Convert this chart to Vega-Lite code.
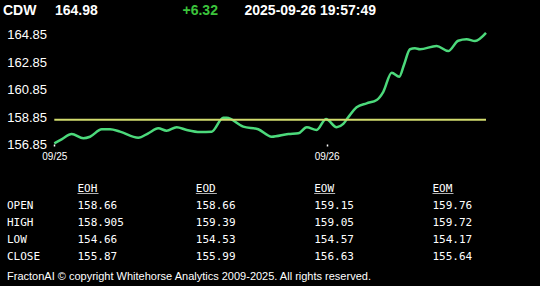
{
  "$schema": "https://vega.github.io/schema/vega-lite/v6.json",
  "width": 540,
  "height": 286,
  "autosize": {"type": "none"},
  "padding": 0,
  "background": "#000000",
  "config": {"view": {"stroke": null}},
  "datasets": {
    "price": [
      {"h": 0, "v": 156.95},
      {"h": 0.68, "v": 157.26},
      {"h": 1.53, "v": 157.63},
      {"h": 2.56, "v": 157.32},
      {"h": 3.15, "v": 157.43},
      {"h": 4.18, "v": 157.97},
      {"h": 4.91, "v": 157.97},
      {"h": 5.79, "v": 157.8},
      {"h": 7.4, "v": 157.36},
      {"h": 8.28, "v": 157.68},
      {"h": 9.16, "v": 158.04},
      {"h": 9.9, "v": 157.87},
      {"h": 10.78, "v": 158.12},
      {"h": 11.67, "v": 157.92},
      {"h": 12.84, "v": 157.77},
      {"h": 13.87, "v": 157.8},
      {"h": 14.89, "v": 158.81},
      {"h": 15.19, "v": 158.81},
      {"h": 16.65, "v": 158.16},
      {"h": 17.97, "v": 157.97},
      {"h": 19.15, "v": 157.43},
      {"h": 20.62, "v": 157.63},
      {"h": 21.5, "v": 157.68},
      {"h": 22.24, "v": 158.12},
      {"h": 23.12, "v": 157.92},
      {"h": 23.94, "v": 158.72},
      {"h": 24.88, "v": 158.12},
      {"h": 25.46, "v": 158.36},
      {"h": 25.9, "v": 158.84},
      {"h": 26.64, "v": 159.57},
      {"h": 27.52, "v": 159.86},
      {"h": 28.41, "v": 160.1},
      {"h": 28.99, "v": 160.7},
      {"h": 29.73, "v": 162.09},
      {"h": 30.4, "v": 161.8},
      {"h": 30.81, "v": 162.65},
      {"h": 31.34, "v": 163.79},
      {"h": 31.78, "v": 163.86},
      {"h": 32.22, "v": 163.79},
      {"h": 33.69, "v": 164.03},
      {"h": 34.71, "v": 163.66},
      {"h": 35.59, "v": 164.41},
      {"h": 36.33, "v": 164.52},
      {"h": 37.07, "v": 164.39},
      {"h": 38.04, "v": 164.98}
    ],
    "ref": [{"h0": 0, "h1": 38.04, "v": 158.66}],
    "header": [
      {"slot": 0, "row": 0, "text": "CDW", "kind": "plain"},
      {"slot": 1, "row": 0, "text": "164.98", "kind": "plain"},
      {"slot": 2, "row": 0, "text": "+6.32", "kind": "up"},
      {"slot": 3, "row": 0, "text": "2025-09-26 19:57:49", "kind": "plain"}
    ],
    "table": [
      {"row": 1, "col": 1, "text": "EOH"},
      {"row": 1, "col": 2, "text": "EOD"},
      {"row": 1, "col": 3, "text": "EOW"},
      {"row": 1, "col": 4, "text": "EOM"},
      {"row": 2, "col": 0, "text": "OPEN"},
      {"row": 2, "col": 1, "text": "158.66"},
      {"row": 2, "col": 2, "text": "158.66"},
      {"row": 2, "col": 3, "text": "159.15"},
      {"row": 2, "col": 4, "text": "159.76"},
      {"row": 3, "col": 0, "text": "HIGH"},
      {"row": 3, "col": 1, "text": "158.905"},
      {"row": 3, "col": 2, "text": "159.39"},
      {"row": 3, "col": 3, "text": "159.05"},
      {"row": 3, "col": 4, "text": "159.72"},
      {"row": 4, "col": 0, "text": "LOW"},
      {"row": 4, "col": 1, "text": "154.66"},
      {"row": 4, "col": 2, "text": "154.53"},
      {"row": 4, "col": 3, "text": "154.57"},
      {"row": 4, "col": 4, "text": "154.17"},
      {"row": 5, "col": 0, "text": "CLOSE"},
      {"row": 5, "col": 1, "text": "155.87"},
      {"row": 5, "col": 2, "text": "155.99"},
      {"row": 5, "col": 3, "text": "156.63"},
      {"row": 5, "col": 4, "text": "155.64"}
    ],
    "footer": [
      {"row": 6, "col": 0, "text": "FractonAI © copyright Whitehorse Analytics 2009-2025. All rights reserved."}
    ]
  },
  "layer": [
    {
      "layer": [
        {
          "data": {"name": "price"},
          "mark": {"type": "line", "color": "#4cd97b", "strokeWidth": 2.5, "interpolate": "monotone"},
          "encoding": {
            "x": {
              "field": "h", "type": "quantitative",
              "scale": {"domain": [0, 38.04], "range": [54.3, 486], "nice": false, "zero": false},
              "axis": {
                "values": [0, 24],
                "labelExpr": "datum.value == 0 ? '09/25' : '09/26'",
                "orient": "bottom", "offset": -142,
                "domain": false, "grid": false, "ticks": true, "tickSize": 2, "tickWidth": 1.5, "tickColor": "#ffffff",
                "labelColor": "#ffffff", "labelFont": "Liberation Sans", "labelFontSize": 10, "labelPadding": 5,
                "labelFlush": false, "labelOverlap": false, "title": null
              }
            },
            "y": {
              "field": "v", "type": "quantitative",
              "scale": {"domain": [156.85, 164.85], "range": [144.7, 34.7], "nice": false, "zero": false},
              "axis": {
                "values": [156.85, 158.85, 160.85, 162.85, 164.85],
                "format": ".2f",
                "orient": "left", "offset": -46.5,
                "domain": false, "grid": false, "ticks": false, "tickSize": 0, "labelPadding": 0,
                "labelColor": "#ffffff", "labelFont": "Liberation Sans", "labelFontSize": 13,
                "labelAlign": "right", "labelBaseline": "middle",
                "labelFlush": false, "labelOverlap": false, "title": null
              }
            }
          }
        },
        {
          "data": {"name": "ref"},
          "mark": {"type": "rule", "color": "#d2dc6e", "strokeWidth": 2},
          "encoding": {
            "x": {"field": "h0", "type": "quantitative"},
            "x2": {"field": "h1"},
            "y": {"field": "v", "type": "quantitative"}
          }
        }
      ]
    },
    {
      "data": {"name": "header"},
      "mark": {"type": "text", "font": "Liberation Sans", "fontSize": 14, "fontWeight": "bold", "align": "left", "baseline": "alphabetic"},
      "encoding": {
        "x": {"field": "slot", "type": "quantitative", "scale": {"domain": [0, 1, 2, 3], "range": [3, 55, 182.5, 244.5], "nice": false, "zero": false}, "axis": null},
        "y": {"field": "row", "type": "quantitative", "scale": {"domain": [0, 1, 5, 6], "range": [14.5, 191.5, 259.5, 280], "nice": false, "zero": false}, "axis": null},
        "text": {"field": "text"},
        "color": {"field": "kind", "type": "nominal", "scale": {"domain": ["plain", "up"], "range": ["#ffffff", "#3cc43c"]}, "legend": null}
      }
    },
    {
      "layer": [
        {
          "data": {"name": "table"},
          "mark": {"type": "text", "font": "DejaVu Sans Mono", "fontSize": 11, "align": "left", "baseline": "alphabetic", "color": "#ffffff"},
          "encoding": {
            "x": {"field": "col", "type": "quantitative", "scale": {"domain": [0, 1, 4], "range": [7, 77.5, 432.5], "nice": false, "zero": false}, "axis": null},
            "y": {"field": "row", "type": "quantitative", "scale": {"domain": [0, 1, 5, 6], "range": [14.5, 191.5, 259.5, 280], "nice": false, "zero": false}, "axis": null},
            "text": {"field": "text"}
          }
        },
        {
          "data": {"name": "table"},
          "transform": [{"filter": "datum.row == 1"}],
          "mark": {"type": "tick", "orient": "horizontal", "size": 21, "thickness": 1, "xOffset": 10.5, "yOffset": 2, "color": "#ffffff"},
          "encoding": {
            "x": {"field": "col", "type": "quantitative", "scale": {"domain": [0, 1, 4], "range": [7, 77.5, 432.5], "nice": false, "zero": false}, "axis": null},
            "y": {"field": "row", "type": "quantitative", "scale": {"domain": [0, 1, 5, 6], "range": [14.5, 191.5, 259.5, 280], "nice": false, "zero": false}, "axis": null}
          }
        },
        {
          "data": {"name": "footer"},
          "mark": {"type": "text", "font": "Liberation Sans", "fontSize": 11, "align": "left", "baseline": "alphabetic", "color": "#ffffff"},
          "encoding": {
            "x": {"field": "col", "type": "quantitative", "scale": {"domain": [0, 1, 4], "range": [7, 77.5, 432.5], "nice": false, "zero": false}, "axis": null},
            "y": {"field": "row", "type": "quantitative", "scale": {"domain": [0, 1, 5, 6], "range": [14.5, 191.5, 259.5, 280], "nice": false, "zero": false}, "axis": null},
            "text": {"field": "text"}
          }
        }
      ]
    }
  ],
  "resolve": {"scale": {"x": "independent", "y": "independent", "color": "independent"}}
}
